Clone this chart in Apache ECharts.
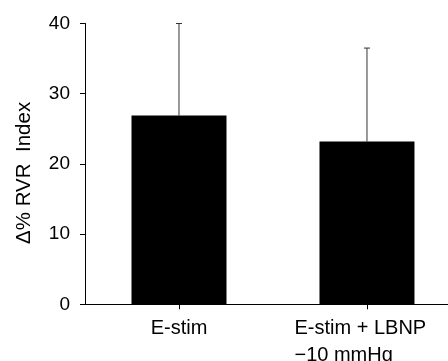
<!DOCTYPE html>
<html><head><meta charset="utf-8">
<script src="https://cdn.jsdelivr.net/npm/echarts@6/dist/echarts.min.js"></script>
<style>html,body{margin:0;padding:0;background:#fff}#c{width:448px;height:361px}</style>
</head><body><div id="c"></div>
<script>
const categories = ['E-stim', 'E-stim + LBNP\n\u221210 mmHg'];
const means = [26.9, 23.2];
const errors = [13.1, 13.3];
const yTicks = [0, 10, 20, 30, 40];
const yName = '\u0394% RVR  Index';

const chart = echarts.init(document.getElementById('c'), null, {renderer: 'canvas'});
const FONT = 'Liberation Sans, Arial, Helvetica, sans-serif';
const catIdx = categories.map((c, i) => i);
chart.setOption({
  animation: false,
  grid: {left: 85, right: 0, top: 23.5, bottom: 56.7, containLabel: false, outerBoundsMode: 'none'},
  xAxis: {
    type: 'value', min: -0.5, max: 1.431,
    axisLine: {show: true, onZero: false, lineStyle: {color: '#000', width: 1}},
    axisTick: {show: true, length: 5, customValues: catIdx, lineStyle: {color: '#000'}},
    splitLine: {show: false},
    axisLabel: {
      show: true, customValues: catIdx,
      color: '#000', fontFamily: FONT, fontSize: 20, margin: 11, lineHeight: 27,
      formatter: function (v) {
        const s = categories[Math.round(v)];
        if (s == null) return '';
        if (s.indexOf('\n') >= 0) { return s.split('\n').map(t => '{l|' + t + '}').join('\n'); }
        return s;
      },
      rich: {l: {width: 145, align: 'left', fontSize: 20, fontFamily: FONT, color: '#000', lineHeight: 27}}
    }
  },
  yAxis: {
    type: 'value', min: 0, max: 40, interval: 10,
    name: yName, nameLocation: 'middle', nameGap: 50, nameRotate: 90,
    nameTextStyle: {color: '#000', fontFamily: FONT, fontSize: 20.5, padding: [0, 0, 0, -18]},
    axisLine: {show: true, onZero: false, lineStyle: {color: '#000', width: 1}},
    axisTick: {show: true, length: 5, lineStyle: {color: '#000'}},
    axisLabel: {color: '#000', fontFamily: FONT, fontSize: 19, margin: 15,
      formatter: v => yTicks.includes(v) ? String(v) : ''},
    splitLine: {show: false}
  },
  series: [
    {type: 'bar', data: means.map((m, i) => [catIdx[i], m]), barWidth: 95, itemStyle: {color: '#000'}, z: 2},
    {
      type: 'custom', z: 1,
      data: means.map((m, i) => [catIdx[i], m, m + errors[i]]),
      renderItem: function (params, api) {
        const x = api.value(0);
        const p0 = api.coord([x, api.value(1)]);
        const p1 = api.coord([x, api.value(2)]);
        return {type: 'group', children: [
          {type: 'line', shape: {x1: p0[0], y1: p0[1], x2: p1[0], y2: p1[1]}, style: {stroke: '#333', lineWidth: 1}},
          {type: 'line', shape: {x1: p1[0] - 3, y1: p1[1], x2: p1[0] + 3, y2: p1[1]}, style: {stroke: '#333', lineWidth: 1}}
        ]};
      }
    }
  ]
});
</script></body></html>
